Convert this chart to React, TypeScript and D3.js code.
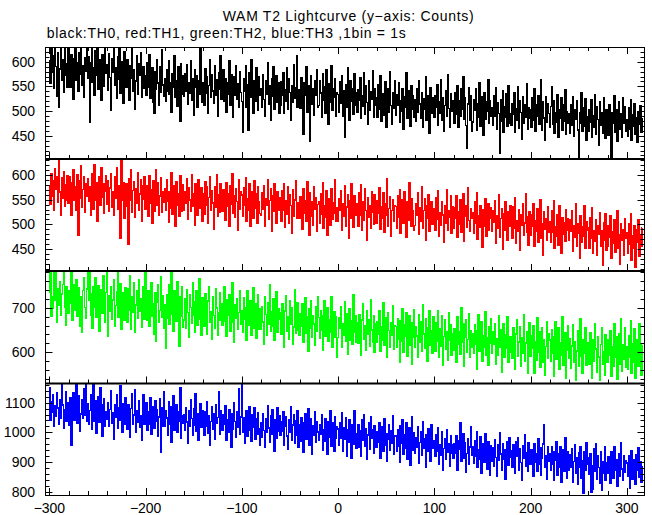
import React from "react";
import * as d3 from "d3";

// ---- data (1 bin = 1 s, first bin at t = -300 s) ----
const T_START = -300;
const BIN = 1;

const th0 = [
601,556,633,578,612,547,642,590,529,618,507,585,651,563,604,538,627,572,596,548,
632,571,549,614,586,523,606,655,562,597,541,619,575,638,553,592,527,609,581,646,
566,611,478,597,636,558,587,531,622,573,648,545,603,569,521,615,590,551,628,577,
593,542,617,568,501,606,579,634,552,588,526,611,564,643,537,599,575,515,621,560,
548,603,579,521,592,567,629,540,583,504,561,612,535,596,572,618,527,555,589,546,
571,533,598,549,614,526,562,587,518,496,579,545,603,557,512,590,539,624,553,530,
566,519,583,541,602,534,557,498,575,548,613,527,561,509,589,544,480,596,535,571,
529,576,541,594,513,558,537,601,522,566,492,583,549,571,508,562,534,628,546,517,
558,511,586,537,569,495,552,603,528,574,541,516,592,533,563,489,577,545,612,524,
551,583,519,566,497,558,535,602,512,574,546,488,569,531,591,523,556,507,580,538,
519,458,566,541,592,508,553,462,578,527,604,535,496,561,519,587,543,502,569,531,
546,507,574,523,489,561,535,598,514,551,482,566,529,590,503,545,572,518,558,496,
512,559,531,578,495,544,520,587,503,566,538,481,552,517,593,526,548,613,507,541,
543,505,568,519,452,557,531,589,498,552,526,438,571,514,545,492,562,533,584,507,
511,562,537,488,575,521,549,496,583,530,473,556,518,591,502,545,527,566,489,538,
534,497,559,516,572,489,541,446,553,508,587,525,481,562,519,546,493,575,512,538,
498,543,521,567,486,531,509,578,493,552,517,473,561,502,539,524,582,488,546,511,
527,488,553,504,571,479,535,516,492,559,468,523,545,497,580,511,474,538,506,562,
491,534,512,557,478,521,499,546,463,529,508,577,485,541,517,470,552,503,531,487,
522,479,545,498,561,514,486,537,467,524,503,569,482,530,511,456,548,495,527,508,
487,531,508,553,472,518,496,564,481,527,459,511,542,490,573,505,468,535,499,521,
512,476,538,493,552,467,521,489,545,503,569,484,526,471,425,514,548,482,531,460,
478,523,501,546,462,515,487,558,470,529,493,451,537,483,518,499,563,476,521,490,
506,472,531,489,548,463,517,495,415,523,480,541,458,509,487,535,469,552,494,476,
471,515,493,538,457,504,482,549,466,520,497,442,529,476,512,488,556,463,507,485,
502,468,527,481,545,459,512,490,531,473,508,563,462,519,486,441,528,477,514,495,
467,509,549,473,521,455,497,478,534,446,503,486,527,461,512,480,543,452,498,475,
494,455,513,471,529,448,502,483,521,462,407,497,475,538,459,506,469,524,441,488,
460,502,478,523,446,491,467,534,452,509,483,431,518,471,497,456,527,478,445,503,
489,451,512,468,407,496,475,531,457,502,438,485,519,463,494,447,527,476,508,459,
482,448,506,463,523,441,492,470,515,452,487,436,498,474,511,458,486
];

const th1 = [
578,541,603,556,589,529,612,571,597,545,632,566,518,594,553,607,537,581,549,598,
543,596,567,519,584,611,548,576,529,601,478,589,552,618,535,571,596,524,583,557,
592,547,576,518,603,563,531,621,549,585,506,572,597,538,614,555,582,523,567,599,
541,588,526,574,603,535,567,519,596,552,615,530,579,561,472,632,548,585,513,570,
582,537,460,593,548,611,525,569,587,514,573,542,604,529,561,590,506,578,551,596,
531,579,553,516,598,542,571,502,589,527,563,610,538,584,519,557,595,524,566,545,
573,528,591,546,505,567,533,604,521,579,548,496,587,539,562,517,598,553,526,581,
529,567,542,593,511,575,549,526,601,537,562,498,583,545,519,590,556,533,574,506,
562,521,587,538,577,503,554,596,529,568,543,491,576,534,601,517,559,525,583,548,
527,571,548,509,585,536,562,497,579,541,603,522,558,514,573,546,488,591,531,566,
559,516,574,538,594,507,551,529,583,496,567,541,512,588,533,561,503,576,545,522,
518,563,531,579,497,552,539,591,510,548,572,486,557,526,583,541,503,566,529,554,
551,507,568,529,582,494,547,521,576,503,559,538,481,571,516,549,589,512,543,526,
512,556,534,491,573,522,548,506,587,529,478,563,517,545,499,576,531,553,486,540,
546,503,561,521,584,492,537,515,569,478,552,529,498,573,511,544,523,590,506,533,
507,551,528,569,489,542,516,578,497,535,560,471,548,512,583,526,494,557,519,541,
539,496,563,518,581,487,545,509,572,528,468,554,515,538,492,567,524,501,559,513,
502,547,523,574,491,536,512,563,484,541,519,592,497,532,556,475,528,549,506,538,
536,493,558,514,571,482,527,549,503,566,521,473,545,508,584,519,497,552,528,489,
498,541,519,563,479,533,507,576,492,528,551,467,537,512,559,486,524,545,501,532,
529,487,553,511,568,476,524,498,545,519,463,538,502,571,489,527,514,557,481,536,
492,534,513,557,474,526,501,549,483,521,562,466,517,538,495,575,508,486,531,512,
523,481,546,502,563,469,518,494,537,511,454,529,497,552,476,520,541,488,512,533,
486,527,505,548,462,517,493,559,474,512,531,449,522,489,545,503,468,526,497,538,
514,472,535,493,554,461,508,486,529,447,519,498,541,477,503,562,484,516,458,525,
478,519,497,541,456,508,485,532,463,514,549,472,502,437,526,491,511,468,535,483,
505,463,527,484,548,451,496,475,519,458,537,492,441,514,479,503,465,529,488,511,
467,509,486,528,445,497,473,541,456,502,482,431,518,464,495,476,537,451,506,489,
493,452,514,471,533,441,487,466,509,438,498,479,524,455,486,417,503,468,521,447,
456,497,474,518,432,485,461,509,443,492,528,451,478,419,502,467,489,438,511,472,
483,441,502,459,521,427,476,451,497,413,488,464,509,436,479,455,493
];

const th2 = [
734,790,681,725,698,788,716,786,667,742,705,759,684,731,752,792,702,661,746,715,
688,737,709,790,672,751,695,728,763,681,714,745,659,724,646,739,768,701,676,742,
784,716,786,684,731,655,747,702,768,679,723,750,648,712,741,687,772,709,668,734,
780,637,726,691,748,673,717,762,658,705,736,785,679,721,754,652,699,733,671,745,
713,668,742,694,771,651,725,689,757,644,706,738,676,763,691,719,657,748,702,673,
783,701,672,738,659,722,756,681,709,641,733,624,712,751,667,694,769,678,726,653,
707,610,729,676,751,663,718,782,685,648,737,694,669,758,701,614,724,681,746,657,
672,719,655,741,689,634,728,701,666,756,683,645,713,737,661,697,764,674,639,722,
701,659,731,678,641,715,748,667,692,629,724,683,654,742,699,638,688,733,671,709,
661,698,747,669,636,718,684,729,648,693,755,667,622,707,676,721,652,689,738,664,
693,645,722,674,701,628,737,661,689,716,639,680,744,655,708,632,683,729,651,697,
652,703,668,619,724,685,639,710,664,752,647,691,658,721,627,679,736,644,697,673,
688,641,709,662,611,693,727,648,679,630,716,664,700,618,657,741,643,684,712,650,
639,686,659,708,622,671,723,643,680,603,697,655,716,634,681,664,615,703,647,725,
678,631,694,650,604,683,716,637,661,701,624,672,645,724,612,658,692,633,679,589,
633,677,655,703,611,664,639,714,624,686,596,652,698,628,671,618,728,645,683,622,
667,621,684,642,593,672,709,630,659,605,694,641,673,614,718,650,623,682,599,663,
622,668,640,693,603,657,628,712,615,677,634,589,688,649,611,666,638,705,606,659,
658,612,676,629,578,671,624,698,601,661,637,689,592,648,682,616,667,573,633,695,
611,657,637,588,684,622,668,603,706,641,609,675,627,579,654,693,616,648,597,679,
648,603,667,624,693,589,652,613,681,571,635,673,606,647,582,688,626,661,594,642,
604,653,628,577,679,617,645,596,701,623,663,568,634,672,601,629,686,589,648,612,
641,597,662,618,563,649,684,602,629,668,581,638,611,692,594,633,572,657,620,675,
598,646,617,664,573,631,593,683,612,651,556,624,663,589,639,608,679,578,634,601,
635,586,654,611,562,641,673,592,623,658,569,632,598,684,579,621,647,553,617,666,
592,638,609,659,554,624,583,677,601,645,566,617,656,578,629,548,613,668,587,641,
627,579,651,598,546,634,669,584,612,655,561,622,593,680,572,609,643,541,605,660,
586,631,564,614,662,577,624,538,603,649,569,611,676,590,553,628,597,655,572,619,
621,574,643,592,541,628,581,664,607,556,635,589,537,618,654,573,601,549,639,596,
578,627,593,648,546,612,569,663,588,634,539,603,642,574,676,557,618,584,655,566,
612,563,638,589,671,552,619,577,652,541,603,629,568,664,591,548,617
];

const th3 = [
1150,1041,1103,1068,1127,1019,1091,1056,1134,1082,1027,1110,1049,1172,1093,1014,1075,1138,1037,1099,
1083,1024,1117,957,1069,1135,1042,1096,1168,1031,1078,1124,1005,1062,1109,1047,1147,1058,1166,1036,
1097,1028,1074,1126,1011,1082,1170,1039,1108,996,1065,1119,1034,1151,1057,987,1093,1114,1022,1071,
1043,1101,1019,1077,1139,1032,1066,978,1094,1051,1128,1015,1083,1040,1156,1061,999,1098,1027,1117,
1068,1012,1092,1045,985,1081,1131,1026,1059,1144,1001,1074,1033,1107,1018,1056,972,1089,1126,1029,
1057,1099,1006,1071,1028,1118,993,1062,1087,1014,1105,1039,1076,986,1051,1112,934,1083,1021,1136,
1022,1074,1049,991,1102,1027,1085,968,1061,1124,1008,1053,1093,1000,1068,1039,1149,979,1057,1030,
1061,1008,1083,1035,962,1072,1019,1110,1047,989,1078,1025,1131,1003,1064,975,1046,1097,1016,1072,
1048,991,1071,1022,1103,998,1056,957,1037,1085,1009,1062,978,1094,1031,1050,1136,994,1073,1013,
1007,1059,1027,1089,972,1044,1001,1076,1021,949,1063,1010,1101,1036,985,1068,1018,1148,993,1052,
1162,1001,1050,964,1029,1073,987,1041,1088,1008,971,1059,1016,1082,977,1045,995,1066,1012,956,
1033,985,1064,1006,950,1047,999,1089,1015,968,1057,992,1075,1010,938,1041,981,1083,1003,1056,
989,1037,1004,1070,957,1022,1053,987,944,1043,1000,1088,973,1025,1061,962,1038,991,1074,951,
1026,970,1049,996,932,1031,1063,978,1012,1080,955,1007,1045,926,1023,990,1068,966,1036,1001,
975,1026,993,1058,941,1009,971,1047,1014,925,1035,984,1074,952,1002,1031,936,1051,979,1018,
1011,955,1033,981,1066,938,1016,977,1049,920,1008,966,1041,994,912,1027,961,1072,986,947,
995,1026,950,1004,921,1041,973,1059,954,1012,908,991,1034,943,1052,979,1009,930,1022,962,
949,1001,968,1033,912,983,1019,937,1047,958,996,901,977,1024,941,1006,965,1056,925,988,
987,935,1008,954,899,1023,965,1043,926,992,946,1031,910,971,1015,889,979,1052,940,998,
931,982,951,1020,897,966,1001,922,1035,946,978,881,991,935,1011,955,904,1027,948,973,
969,918,991,937,1016,893,958,924,1003,874,946,980,911,1009,933,963,886,988,929,957,
914,961,931,987,872,943,972,1031,903,939,996,912,965,864,928,979,893,951,1019,922,
951,895,972,918,1003,884,940,909,986,862,929,963,898,994,924,877,968,937,856,955,
903,949,887,974,916,851,958,905,998,927,872,963,910,941,843,929,970,889,983,915,
938,884,957,906,862,968,919,981,871,944,898,838,955,912,992,887,931,869,964,902,
891,941,908,852,963,899,927,868,979,893,948,857,914,961,1025,881,922,843,950,904,
927,872,951,893,838,936,907,969,856,928,881,953,832,911,942,869,981,897,847,933,
874,923,881,944,833,902,958,861,915,826,931,884,952,846,906,796,935,873,966,893,
913,859,927,799,889,808,944,868,961,842,921,882,829,935,805,901,862,952,838,897,
862,918,879,827,936,888,846,951,871,909,818,894,929,853,964,876,837,921,866,903,
897,851,921,810,879,939,843,908,862,824,926,873,947,849,901,831,885
];

// ---- tick labels ----
const xTickLabels = [-300, -200, -100, 0, 100, 200, 300];
const yLabels0 = [450, 500, 550, 600];
const yLabels1 = [450, 500, 550, 600];
const yLabels2 = [600, 700];
const yLabels3 = [800, 900, 1000, 1100];

const TITLE = "WAM T2 Lightcurve (y\u2212axis: Counts)";
const SUBTITLE = "black:TH0, red:TH1, green:TH2, blue:TH3 ,1bin = 1s";

// ---- layout ----
const W = 652;
const H = 515;
const LEFT = 45.5;
const RIGHT = 644.5;
const FONT = "'Liberation Sans', Arial, Helvetica, sans-serif";

const panels = [
  { id: "p0", values: th0, color: "#000000", domain: [402.8, 629.8], top: 47, bottom: 159, labels: yLabels0, minor: 10 },
  { id: "p1", values: th1, color: "#ff0000", domain: [405.4, 632.4], top: 159, bottom: 271, labels: yLabels1, minor: 10 },
  { id: "p2", values: th2, color: "#00ff00", domain: [530, 782.3], top: 271, bottom: 383.5, labels: yLabels2, minor: 20 },
  { id: "p3", values: th3, color: "#0000ff", domain: [788.9, 1164.7], top: 383.5, bottom: 495, labels: yLabels3, minor: 20 },
];

const fmt = (v: number) => (v < 0 ? "\u2212" + Math.abs(v) : String(v));

export default function App() {
  const x = d3.scaleLinear().domain([-300, 300]).range([49.4, 626.9]);
  const xMinor = d3.range(-300, 320, 20);

  return (
    <svg
      width={W}
      height={H}
      viewBox={`0 0 ${W} ${H}`}
      style={{ position: "absolute", left: 0, top: 0, background: "#fff" }}
      fontFamily={FONT}
    >
      <rect x={0} y={0} width={W} height={H} fill="#ffffff" />
      <defs>
        {panels.map((p) => (
          <clipPath id={`clip-${p.id}`} key={p.id}>
            <rect x={LEFT} y={p.top} width={RIGHT - LEFT} height={p.bottom - p.top} />
          </clipPath>
        ))}
      </defs>

      <text x={222.7} y={21} fontSize={14} textLength={251} lengthAdjust="spacing" fill="#000">
        {TITLE}
      </text>
      <text x={46.7} y={38} fontSize={14} textLength={359} lengthAdjust="spacing" fill="#000">
        {SUBTITLE}
      </text>

      {panels.map((p, pi) => {
        const y = d3.scaleLinear().domain(p.domain).range([p.bottom, p.top]);
        const line = d3
          .line<number>()
          .x((_, i) => x(T_START + i * BIN))
          .y((d) => y(d))
          .curve(d3.curveStep);
        const minorTicks = d3.range(Math.ceil(p.domain[0] / p.minor) * p.minor, p.domain[1], p.minor);
        const isMajorY = (v: number) => p.labels.includes(v);
        return (
          <g key={p.id}>
            <path
              d={line(p.values) || ""}
              fill="none"
              stroke={p.color}
              strokeWidth={1.5}
              shapeRendering="crispEdges"
              clipPath={`url(#clip-${p.id})`}
            />
            {minorTicks.map((v) => {
              const yy = Math.round(y(v)) + 0.5;
              const len = isMajorY(v) ? 7 : 4;
              return (
                <g key={`yt${v}`} stroke="#000" strokeWidth={1}>
                  <line x1={LEFT} x2={LEFT + len} y1={yy} y2={yy} />
                  <line x1={RIGHT} x2={RIGHT - len} y1={yy} y2={yy} />
                </g>
              );
            })}
            {p.labels.map((v) => (
              <text key={`yl${v}`} x={35} y={y(v) + 5} fontSize={14} textAnchor="end" fill="#000">
                {v}
              </text>
            ))}
            {xMinor.map((t) => {
              const xx = Math.round(x(t)) + 0.5;
              const len = t % 100 === 0 ? 7 : 4;
              return (
                <line key={`xb${t}`} x1={xx} x2={xx} y1={p.bottom} y2={p.bottom - len} stroke="#000" strokeWidth={1} />
              );
            })}
            {pi === 0 &&
              xMinor.map((t) => {
                const xx = Math.round(x(t)) + 0.5;
                const len = t % 100 === 0 ? 7 : 4;
                return (
                  <line key={`xt${t}`} x1={xx} x2={xx} y1={p.top} y2={p.top + len} stroke="#000" strokeWidth={1} />
                );
              })}
          </g>
        );
      })}

      <rect x={LEFT} y={47.5} width={RIGHT - LEFT} height={495.5 - 47.5} fill="none" stroke="#000" strokeWidth={1} />
      {panels.slice(1).map((p) => (
        <line key={`sep${p.id}`} x1={LEFT} x2={RIGHT} y1={p.top} y2={p.top} stroke="#000" strokeWidth={2} />
      ))}

      {xTickLabels.map((t) => (
        <text key={`xl${t}`} x={x(t)} y={513} fontSize={14} textAnchor="middle" fill="#000">
          {fmt(t)}
        </text>
      ))}
    </svg>
  );
}
